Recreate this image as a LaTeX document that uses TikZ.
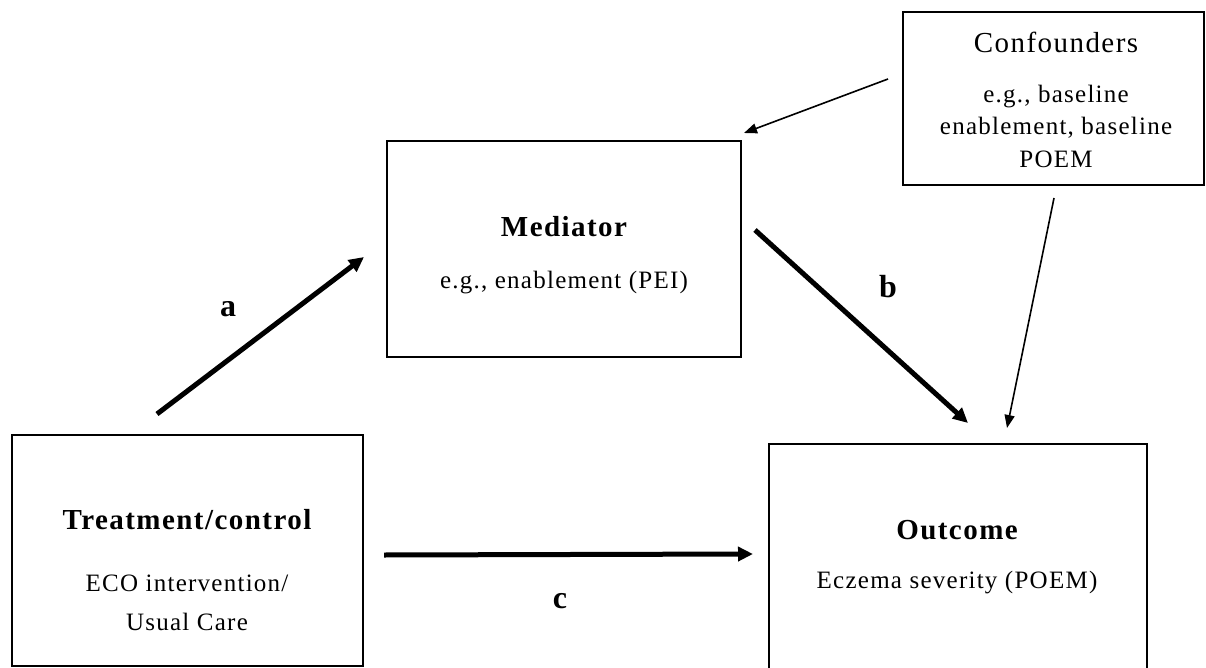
\documentclass[tikz,border=0pt]{standalone}
\usepackage{fontspec}
\setmainfont{Liberation Serif}
\newfontfamily\spacedfont[LetterSpace=5]{Liberation Serif}
\usetikzlibrary{arrows.meta}
\tikzset{
  box/.style={draw=black, line width=2.5pt, fill=white, inner sep=0pt},
  body/.style={inner sep=0pt, font=\spacedfont\fontsize{25}{29}\selectfont},
  ttl/.style={inner sep=0pt, font=\spacedfont\bfseries\fontsize{29}{33}\selectfont},
  lbl/.style={inner sep=0pt, font=\bfseries\fontsize{32}{36}\selectfont},
  thickarrow/.style={line width=5pt, -{Triangle[length=15pt,width=14pt]}},
  thinarrow/.style={line width=1.6pt, -{Triangle[length=13pt,width=10pt]}},
}
\begin{document}
\begin{tikzpicture}[x=1pt,y=-1pt]
\useasboundingbox (0,0) rectangle (1206,668);
% boxes
\node[box, minimum width=351pt, minimum height=231pt] (trt) at (187.5,550.5) {};
\node[box, minimum width=354pt, minimum height=216pt] (med) at (564,249) {};
\node[box, minimum width=301pt, minimum height=173pt] (conf) at (1053.5,98.5) {};
\node[box, minimum width=378pt, minimum height=226pt] (out) at (958,557) {};
% texts
\node[ttl] (trtT) at (187,520) {Treatment/control};
\node[body] (trt1) at (187,583) {ECO intervention/};
\node[body] (trt2) at (187,622) {Usual Care};
\node[ttl] (medT) at (564,227) {Mediator};
\node[body] (med1) at (564,283) {e.g., enablement (PEI)};
\node[ttl] (outT) at (957,530) {Outcome};
\node[body] (out1) at (957,583) {Eczema severity (POEM)};
\node[inner sep=0pt, font=\spacedfont\fontsize{29}{33}\selectfont] (confT) at (1056,42) {Confounders};
\node[body] (conf1) at (1056,97) {e.g., baseline};
\node[body] (conf2) at (1056,128) {enablement, baseline};
\node[body] (conf3) at (1056,159) {POEM};
% connector ends
\coordinate (aS) at (157,414);
\coordinate (aE) at (364,257);
\coordinate (bS) at (755,230);
\coordinate (bE) at (968,423);
\coordinate (cS) at (384,555);
\coordinate (cE) at (753,554);
\coordinate (cmS) at (888,79);
\coordinate (cmE) at (744,133);
\coordinate (coS) at (1054,198);
\coordinate (coE) at (1007,428);
\draw[thickarrow] (aS) -- (aE);
\draw[thickarrow] (bS) -- (bE);
\draw[thickarrow] (cS) -- (cE);
\draw[thinarrow] (cmS) -- (cmE);
\draw[thinarrow] (coS) -- (coE);
% labels
\node[lbl] (la) at (228,309) {a};
\node[lbl] (lb) at (888,287) {b};
\node[lbl] (lc) at (560,601) {c};
\end{tikzpicture}
\end{document}
